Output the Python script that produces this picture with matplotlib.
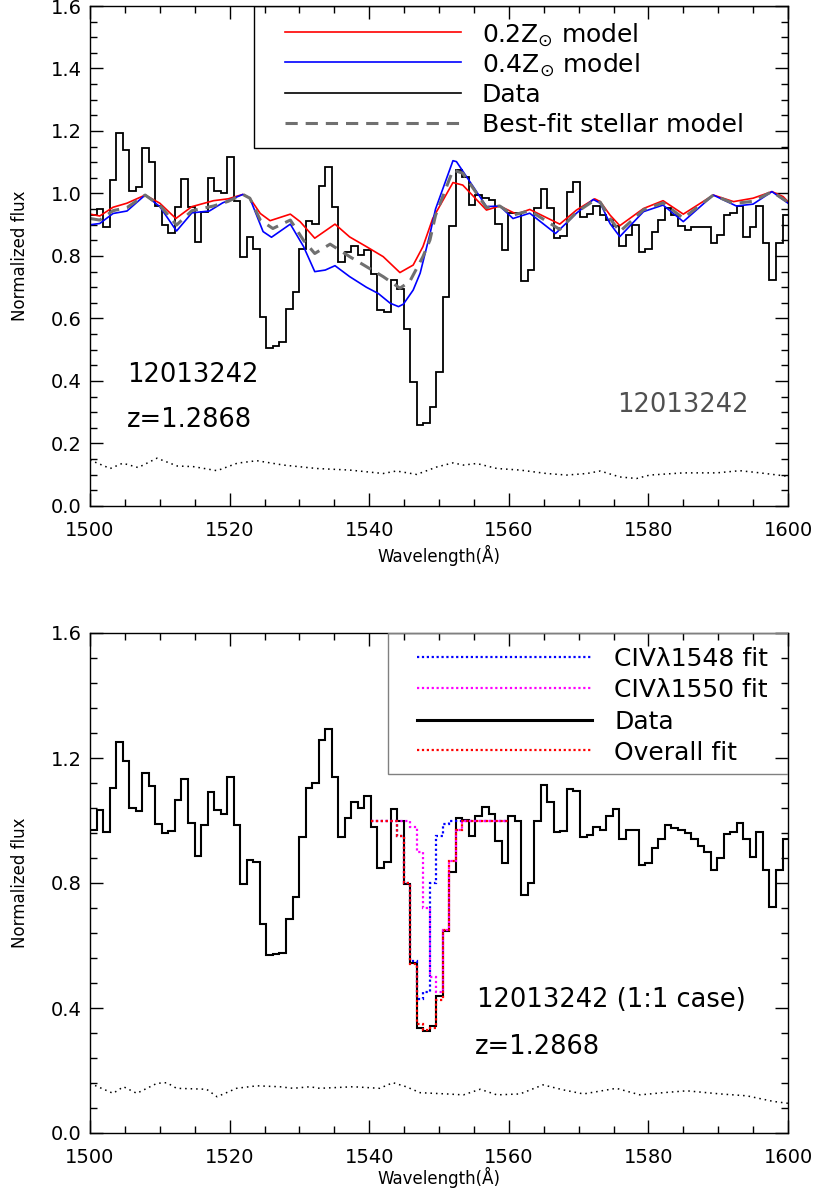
import matplotlib
matplotlib.use('Agg')
import matplotlib.pyplot as plt
import numpy as np
from matplotlib.ticker import MultipleLocator, FormatStrFormatter
from matplotlib.patches import Rectangle

# rest-frame pixel grid of the spectrum
wave_start = 1500.0
pixel_width = 0.936

# data normalised by the continuum (upper panel)
flux_norm = [
    0.930, 0.950, 0.894, 1.043, 1.193, 1.139, 1.009, 1.020, 1.145, 1.102,
    0.960, 0.898, 0.875, 0.958, 1.047, 0.956, 0.845, 0.941, 1.050, 1.009,
    1.000, 1.116, 0.975, 0.798, 0.862, 0.821, 0.604, 0.505, 0.512, 0.525,
    0.631, 0.686, 0.822, 0.913, 0.902, 1.024, 1.084, 0.958, 0.780, 0.814,
    0.833, 0.804, 0.820, 0.742, 0.627, 0.622, 0.723, 0.694, 0.565, 0.398,
    0.259, 0.264, 0.318, 0.430, 0.670, 0.896, 1.075, 1.052, 0.962, 0.995,
    0.985, 0.979, 0.902, 0.820, 0.939, 0.937, 0.721, 0.755, 0.955, 1.013,
    0.952, 0.857, 0.864, 1.006, 1.038, 0.924, 0.934, 0.960, 0.931, 0.914,
    0.897, 0.832, 0.867, 0.899, 0.812, 0.821, 0.878, 0.915, 0.952, 0.931,
    0.897, 0.883, 0.894, 0.894, 0.894, 0.840, 0.867, 0.931, 0.937, 0.960,
    0.862, 0.894, 0.960, 0.843, 0.723, 0.840, 0.931,
]

# data divided by the best-fit stellar model (lower panel)
flux_ratio = [
    0.970, 1.034, 0.962, 1.103, 1.252, 1.191, 1.039, 1.030, 1.151, 1.110,
    0.989, 0.959, 0.966, 1.066, 1.134, 0.993, 0.886, 0.986, 1.090, 1.034,
    1.021, 1.140, 0.986, 0.797, 0.874, 0.868, 0.669, 0.570, 0.573, 0.575,
    0.685, 0.756, 0.948, 1.105, 1.121, 1.258, 1.292, 1.140, 0.948, 1.007,
    1.060, 1.039, 1.079, 0.980, 0.849, 0.868, 1.036, 0.997, 0.797, 0.545,
    0.335, 0.327, 0.342, 0.438, 0.647, 0.836, 1.007, 1.002, 0.950, 1.015,
    1.044, 1.022, 0.935, 0.865, 1.013, 0.998, 0.762, 0.799, 0.998, 1.114,
    1.060, 0.964, 0.967, 1.100, 1.095, 0.948, 0.955, 0.978, 0.971, 1.013,
    1.036, 0.942, 0.969, 0.971, 0.858, 0.865, 0.911, 0.942, 0.985, 0.975,
    0.971, 0.959, 0.940, 0.917, 0.900, 0.842, 0.879, 0.957, 0.964, 0.991,
    0.940, 0.882, 0.964, 0.842, 0.722, 0.842, 0.942,
]

# stellar population models
model02_wave = [1500.0, 1501.4, 1503.3, 1505.3, 1507.9, 1510.0, 1512.3, 1514.6, 1517.7, 1519.8,
                1521.9, 1522.9, 1524.4, 1525.8, 1528.7, 1530.1, 1532.2, 1535.1, 1537.2, 1539.6,
                1542.0, 1544.4, 1546.3, 1547.7, 1549.1, 1552.0, 1553.4, 1556.8, 1558.7, 1561.1,
                1563.0, 1567.3, 1569.7, 1572.3, 1573.1, 1574.5, 1575.9, 1579.3, 1582.1, 1585.0,
                1589.3, 1592.2, 1595.0, 1597.7, 1599.3, 1600.0]
model02_flux = [0.934, 0.928, 0.956, 0.969, 0.995, 0.969, 0.920, 0.958, 0.977, 0.983,
                0.997, 0.985, 0.936, 0.913, 0.934, 0.910, 0.857, 0.902, 0.861, 0.830,
                0.798, 0.747, 0.771, 0.830, 0.920, 1.035, 1.027, 0.947, 0.960, 0.934,
                0.949, 0.902, 0.947, 0.983, 0.974, 0.931, 0.897, 0.952, 0.977, 0.934,
                0.995, 0.974, 0.985, 1.006, 0.990, 0.974]

model04_wave = [1500.0, 1501.4, 1503.3, 1505.3, 1507.9, 1510.0, 1512.4, 1514.6, 1517.1, 1519.0,
                1521.9, 1522.9, 1524.8, 1526.0, 1528.7, 1530.6, 1532.2, 1533.7, 1535.1, 1537.2,
                1539.6, 1541.3, 1543.0, 1544.2, 1544.9, 1546.3, 1547.3, 1548.7, 1549.5, 1552.0,
                1552.5, 1554.9, 1556.8, 1558.7, 1560.6, 1563.0, 1566.7, 1569.7, 1572.1, 1573.1,
                1574.5, 1575.9, 1579.3, 1582.1, 1585.0, 1589.3, 1592.6, 1595.0, 1597.7, 1600.0]
model04_flux = [0.900, 0.904, 0.936, 0.944, 0.995, 0.958, 0.880, 0.938, 0.944, 0.970,
                0.997, 0.985, 0.878, 0.860, 0.902, 0.830, 0.750, 0.755, 0.769, 0.734,
                0.700, 0.680, 0.649, 0.638, 0.646, 0.691, 0.745, 0.870, 0.950, 1.105,
                1.102, 1.022, 0.958, 0.960, 0.920, 0.937, 0.872, 0.937, 0.981, 0.969,
                0.904, 0.862, 0.942, 0.963, 0.910, 0.995, 0.960, 0.966, 1.006, 0.969]

bestfit_wave = [1500.0, 1501.4, 1503.3, 1505.3, 1507.9, 1510.0, 1512.4, 1514.6, 1517.7, 1519.8,
                1521.9, 1522.9, 1524.4, 1526.2, 1528.7, 1530.6, 1532.2, 1534.4, 1537.2, 1539.6,
                1542.0, 1544.4, 1545.8, 1547.7, 1548.7, 1549.5, 1552.0, 1553.4, 1556.8, 1558.7,
                1560.6, 1563.0, 1567.3, 1569.7, 1572.3, 1573.1, 1574.5, 1575.9, 1579.3, 1582.1,
                1585.0, 1589.3, 1592.2, 1595.0, 1597.7, 1600.0]
bestfit_flux = [0.920, 0.915, 0.945, 0.955, 0.995, 0.962, 0.899, 0.945, 0.960, 0.975,
                0.997, 0.985, 0.915, 0.888, 0.915, 0.850, 0.808, 0.838, 0.798, 0.766,
                0.734, 0.697, 0.718, 0.798, 0.851, 0.930, 1.075, 1.065, 0.955, 0.960,
                0.931, 0.945, 0.885, 0.940, 0.979, 0.972, 0.920, 0.878, 0.948, 0.970,
                0.921, 0.995, 0.968, 0.975, 1.006, 0.972]

# 1-sigma error spectra
noise_top_wave = [1500.0, 1502.9, 1504.7, 1506.9, 1509.6, 1512.5, 1514.8, 1518.2, 1521.1, 1523.9,
                  1527.7, 1532.5, 1537.2, 1542.0, 1543.9, 1546.8, 1549.7, 1552.0, 1553.5, 1555.4,
                  1558.3, 1561.6, 1565.4, 1568.3, 1571.2, 1573.1, 1575.9, 1578.3, 1580.2, 1585.0,
                  1589.8, 1593.1, 1596.0, 1600.0]
noise_top = [0.147, 0.120, 0.137, 0.123, 0.153, 0.128, 0.126, 0.113, 0.137, 0.145,
             0.131, 0.120, 0.115, 0.104, 0.112, 0.101, 0.125, 0.138, 0.131, 0.136,
             0.120, 0.115, 0.104, 0.099, 0.104, 0.112, 0.093, 0.088, 0.099, 0.106,
             0.106, 0.113, 0.106, 0.095]

noise_bot_wave = [1500.0, 1503.3, 1504.8, 1506.7, 1509.6, 1511.0, 1512.4, 1516.7, 1518.2, 1521.0,
                  1523.9, 1527.2, 1529.1, 1531.5, 1532.9, 1537.7, 1541.5, 1543.4, 1545.3, 1547.3,
                  1551.1, 1553.5, 1555.9, 1558.3, 1561.6, 1564.9, 1567.8, 1570.7, 1575.4, 1578.8,
                  1582.1, 1585.5, 1590.3, 1594.1, 1597.9, 1600.0]
noise_bot = [0.159, 0.127, 0.148, 0.127, 0.159, 0.161, 0.143, 0.140, 0.116, 0.143,
             0.151, 0.148, 0.143, 0.148, 0.143, 0.148, 0.143, 0.161, 0.148, 0.129,
             0.125, 0.122, 0.140, 0.122, 0.125, 0.154, 0.138, 0.125, 0.143, 0.122,
             0.129, 0.135, 0.125, 0.119, 0.101, 0.095]

# CIV doublet fit, evaluated on the data pixels starting at pixel 44
fit_first_pixel = 44
civ1548_fit = [1.00, 1.00, 1.00, 1.00, 0.95, 0.80, 0.55, 0.43, 0.45, 0.80, 0.95,
               0.99, 1.00, 1.00, 1.00, 1.00, 1.00, 1.00, 1.00, 1.00, 1.00]
civ1550_fit = [1.00, 1.00, 1.00, 1.00, 1.00, 1.00, 0.98, 0.90, 0.72, 0.50, 0.45,
               0.65, 0.87, 0.97, 1.00, 1.00, 1.00, 1.00, 1.00, 1.00, 1.00]
overall_fit = [1.00, 1.00, 1.00, 1.00, 0.95, 0.80, 0.54, 0.35, 0.33, 0.335, 0.425,
               0.65, 0.87, 0.97, 1.00, 1.00, 1.00, 1.00, 1.00, 1.00, 1.00]

object_id = '12013242'
redshift = 'z=1.2868'

wave_edges = wave_start + pixel_width * np.arange(len(flux_norm) + 1)
fit_edges = wave_edges[fit_first_pixel - 1:fit_first_pixel + len(overall_fit)]

DOTS = (0, (1, 2.6))
FIT_DOTS = (0, (1, 1.2))


def style_axis(ax, y_major, y_minor, xlabel_y):
    ax.set_xlim(1500, 1600)
    ax.set_ylim(0, 1.6)
    ax.xaxis.set_major_locator(MultipleLocator(20))
    ax.xaxis.set_minor_locator(MultipleLocator(5))
    ax.yaxis.set_major_locator(MultipleLocator(y_major))
    ax.yaxis.set_minor_locator(MultipleLocator(y_minor))
    ax.yaxis.set_major_formatter(FormatStrFormatter('%.1f'))
    ax.tick_params(which='both', direction='in', top=True, right=True, width=1.0)
    ax.tick_params(which='major', length=9.5, labelsize=14)
    ax.tick_params(which='minor', length=5)
    ax.tick_params(axis='x', which='major', pad=11)
    ax.tick_params(axis='y', which='major', pad=6)
    for sp in ax.spines.values():
        sp.set_linewidth(1.0)
    ax.set_xlabel('Wavelength(Å)', fontsize=12)
    ax.set_ylabel('Normalized flux', fontsize=12)
    ax.xaxis.set_label_coords(0.5, xlabel_y)
    ax.yaxis.set_label_coords(-0.087, 0.5)


def draw_key(ax, box, line_x, text_x, rows, edgecolor):
    # legend drawn by hand inside the upper right corner
    ax.add_patch(Rectangle((box[0], box[1]), box[2], box[3], transform=ax.transAxes,
                           fill=False, edgecolor=edgecolor, lw=1.0, zorder=6))
    for y, label, style in rows:
        ax.plot(line_x, [y, y], transform=ax.transAxes, zorder=6, **style)
        ax.text(text_x, y, label, transform=ax.transAxes, fontsize=18,
                va='center_baseline', ha='left', zorder=6)


fig = plt.figure(figsize=(8.16, 11.95), dpi=100)
ax1 = fig.add_axes([90 / 816, 689 / 1195, 698 / 816, 500 / 1195])
ax2 = fig.add_axes([90 / 816, 62 / 1195, 698 / 816, 500 / 1195])

# --- upper panel: data against stellar population models ---
ax1.stairs(flux_norm, wave_edges, baseline=None, color='black', lw=1.3)
ax1.plot(model02_wave, model02_flux, color='#ff0000', lw=1.2)
ax1.plot(model04_wave, model04_flux, color='#0000ff', lw=1.2)
ax1.plot(bestfit_wave, bestfit_flux, color='#707070', lw=2.2, linestyle=(0, (4, 2.6)))
ax1.plot(noise_top_wave, noise_top, color='black', lw=1.1, linestyle=DOTS)
style_axis(ax1, 0.2, 0.05, -0.078)

ax1.text(0.053, 0.262, object_id, transform=ax1.transAxes, fontsize=18.5, va='center')
ax1.text(0.053, 0.172, redshift, transform=ax1.transAxes, fontsize=18.5, va='center')
ax1.text(0.755, 0.202, object_id, transform=ax1.transAxes, fontsize=18.5, va='center',
         color='#505050')

draw_key(ax1, (0.235, 0.716, 0.765, 0.284), [0.279, 0.532], 0.5616, [
    (0.948, r'0.2Z$_{\odot}$ model', dict(color='#ff0000', lw=1.2)),
    (0.888, r'0.4Z$_{\odot}$ model', dict(color='#0000ff', lw=1.2)),
    (0.826, 'Data', dict(color='black', lw=1.2)),
    (0.766, 'Best-fit stellar model', dict(color='#707070', lw=2.2, linestyle=(0, (4, 2.6)))),
], 'black')

# --- lower panel: CIV doublet fit on the stellar-model-divided spectrum ---
ax2.stairs(flux_ratio, wave_edges, baseline=None, color='black', lw=1.5)
ax2.stairs(civ1548_fit, fit_edges, baseline=None, color='#0000ff', lw=1.6, linestyle=FIT_DOTS)
ax2.stairs(civ1550_fit, fit_edges, baseline=None, color='#ff00ff', lw=1.6, linestyle=FIT_DOTS)
ax2.stairs(overall_fit, fit_edges, baseline=None, color='#ff0000', lw=1.6, linestyle=FIT_DOTS)
ax2.plot(noise_bot_wave, noise_bot, color='black', lw=1.1, linestyle=DOTS)
style_axis(ax2, 0.4, 0.08, -0.068)

ax2.text(0.554, 0.266, object_id + ' (1:1 case)', transform=ax2.transAxes, fontsize=18.5,
         va='center')
ax2.text(0.552, 0.172, redshift, transform=ax2.transAxes, fontsize=18.5, va='center')

draw_key(ax2, (0.4265, 0.719, 0.5735, 0.281), [0.468, 0.719], 0.751, [
    (0.953, 'CIVλ1548 fit', dict(color='#0000ff', lw=1.6, linestyle=FIT_DOTS)),
    (0.891, 'CIVλ1550 fit', dict(color='#ff00ff', lw=1.6, linestyle=FIT_DOTS)),
    (0.827, 'Data', dict(color='black', lw=2.2)),
    (0.766, 'Overall fit', dict(color='#ff0000', lw=1.6, linestyle=FIT_DOTS)),
], '#808080')

fig.savefig('out.png', dpi=100)
